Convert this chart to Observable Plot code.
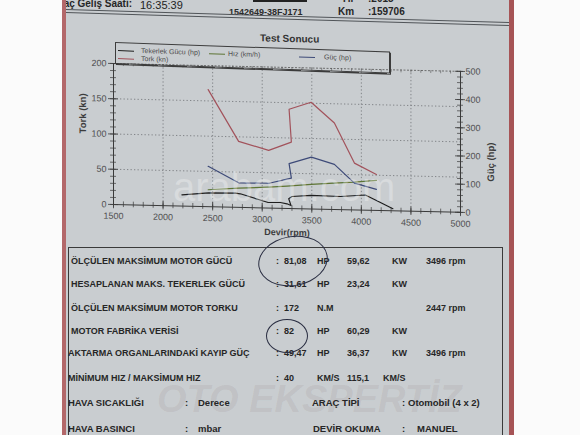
<!DOCTYPE html>
<html lang="tr"><head><meta charset="utf-8">
<script src="https://cdn.jsdelivr.net/npm/d3@7"></script>
<script src="https://cdn.jsdelivr.net/npm/@observablehq/plot@0.6"></script>
<style>
html,body{margin:0;padding:0;width:580px;height:435px;overflow:hidden;background:#fbfbfb;}
body{position:relative;font-family:"Liberation Sans",Arial,sans-serif;color:#262626;}
#stripL{position:absolute;left:62px;top:0;width:4px;height:435px;background:#b3686a;}
#stripR{position:absolute;left:509px;top:0;width:5px;height:435px;background:#a65456;}
#paper{position:absolute;left:66px;top:0;width:443px;height:435px;background:#c9cdd0;overflow:hidden;}
.t{position:absolute;white-space:nowrap;line-height:12px;}
#legend{position:absolute;left:49px;top:42px;width:273px;height:20px;border:1px solid #3c3c3c;box-shadow:1px 1px 0 #3c3c3c;transform:skewY(2deg);transform-origin:0 0;}
.lg{position:absolute;white-space:nowrap;font-size:7px;line-height:8px;color:#4a4a4a;}
.ll{position:absolute;height:0;border-top:1.2px solid;width:16px;}
#table{position:absolute;left:2px;top:247px;width:435px;height:200px;border:1.5px solid #3a3a3a;box-sizing:border-box;}
.pen{position:absolute;border:1.3px solid #2a2e42;border-radius:50%;}
</style></head><body>
<div id="stripL"></div><div id="stripR"></div>
<div id="paper"></div>
<script>
// ---------- chart data ----------
const rpmTork = [2455, 2762, 3065, 3294, 3271, 3493, 3728, 3930, 4152];
const tork    = [166, 93.6, 81.8, 94.3, 140.7, 151.4, 122.7, 66.5, 51.1];
const rpmGuc  = [2455, 2762, 3070, 3294, 3271, 3496, 3728, 3930, 4152];
const gucHp   = [143, 87, 88, 108, 159, 184, 160, 95, 75];
const rpmHiz  = [2455, 2762, 3065, 3250, 3493, 3721, 3930, 4152];
const hiz     = [24.0, 27.2, 29.6, 31.6, 34.8, 37.4, 39.5, 42.6];
const rpmTek  = [2190, 2459, 2729, 2779, 3060, 3183, 3250, 3290, 3267, 3300, 3493, 3789, 4040, 4152, 4318];
const tekerlek= [16.0, 19.7, 20.0, 19.3, 7.8, 8.2, 6.6, 4.3, 13.9, 17.1, 19.2, 18.7, 21.6, 14.2, 3];

// ---------- axes / ticks ----------
const xTicks = [1500, 2000, 2500, 3000, 3500, 4000, 4500, 5000];
const xGrid = [2000, 2500, 3000, 3500, 4000, 4500];
const xMinor = d3.range(1500, 5001, 100);
const yLeftTicks = [0, 50, 100, 150, 200];
const yGrid = [50, 100, 150];
const yLeftMinor = d3.range(0, 201, 10);
const yRightTicks = [0, 100, 200, 300, 400, 500];
const yRightMinor = d3.range(0, 501, 20);
const hpPerUnit = 500 / 200; // right axis (hp) vs left axis (kn)

// ---------- texts ----------
const legendNames = ["Tekerlek Gücu (hp)", "Hız (km/h)", "Güç (hp)", "Tork (kn)"];
const legendColors = ["#1e1e1e", "#5d7434", "#3d4a78", "#a2525b"];
const rowLabels = ["ÖLÇÜLEN MAKSİMUM MOTOR GÜCÜ", "HESAPLANAN MAKS. TEKERLEK GÜCÜ", "ÖLÇÜLEN MAKSİMUM MOTOR TORKU", "MOTOR FABRİKA VERİSİ", "AKTARMA ORGANLARINDAKİ KAYIP GÜÇ", "MİNİMUM HIZ / MAKSİMUM HIZ"];
const rowVal1 = ["81,08", "31,61", "172", "82", "49,47", "40"];
const rowUnit1 = ["HP", "HP", "N.M", "HP", "HP", "KM/S"];
const rowVal2 = ["59,62", "23,24", "", "60,29", "36,37", "115,1"];
const rowUnit2 = ["KW", "KW", "", "KW", "KW", "KM/S"];
const rowRpm = ["3496 rpm", "", "2447 rpm", "", "3496 rpm", ""];

const paper = document.getElementById("paper");
function put(txt, x, yc, size, bold, extra) {
  const s = document.createElement("div");
  s.className = "t";
  s.textContent = txt;
  s.style.left = (x - 66) + "px";
  s.style.top = (yc - 6) + "px";
  s.style.fontSize = size + "px";
  if (bold) s.style.fontWeight = "bold";
  if (extra) Object.assign(s.style, extra);
  paper.appendChild(s);
  return s;
}

// header
put("Araç Geliş Saati:", 40, 4, 10, true, {width: "92px", textAlign: "right", left: "-26px"});
put("16:35:39", 140, 5, 11, false, {color: "#1e1e1e"});
put("1542649-38FJ171", 229, 12, 9, true, {color: "#2a2a2a"});
put("Yıl", 341, -1, 10, true);
put(":2015", 368, -1, 10, true);
put("Km", 338, 12, 10, true);
put(":159706", 368, 12, 10, true);
const bar = document.createElement("div");
Object.assign(bar.style, {position: "absolute", left: "187px", top: "0", width: "54px", height: "2px", background: "#222"});
paper.appendChild(bar);
for (const off of [0, 2.5]) {
  const ln = document.createElement("div");
  Object.assign(ln.style, {position: "absolute", left: "-4px", top: (9 + off) + "px", width: "460px", height: "0", borderTop: "1px solid #505458", transform: "rotate(1.68deg)", transformOrigin: "0 0"});
  paper.appendChild(ln);
}

// title
put("Test Sonucu", 260, 39, 10, true, {color: "#333", transform: "skewY(1.3deg)"});

// chart
const torkData = rpmTork.map((r, i) => ({rpm: r, v: tork[i]}));
const gucData = rpmGuc.map((r, i) => ({rpm: r, hp: gucHp[i]}));
const hizData = rpmHiz.map((r, i) => ({rpm: r, v: hiz[i]}));
const tekData = rpmTek.map((r, i) => ({rpm: r, v: tekerlek[i]}));
const axisCol = "#3a3a3a";
const grid = {stroke: "#6f7276", strokeWidth: 0.8, strokeDasharray: "1.3,2.2"};

const chart = Plot.plot({
  width: 443, height: 185,
  marginLeft: 47, marginRight: 49, marginTop: 8, marginBottom: 36,
  x: {domain: [1500, 5000]},
  y: {domain: [0, 200]},
  style: {background: "transparent", fontFamily: "'Liberation Sans', Arial, sans-serif", fontSize: "9px", color: "#505050", overflow: "visible"},
  marks: [
    Plot.ruleX(xGrid, {x: d => d, y1: 0, y2: 200, ...grid}),
    Plot.ruleY(yGrid, {y: d => d, x1: 1500, x2: 5000, ...grid}),
    Plot.ruleY([200], {y: d => d, x1: 1500, x2: 5000, stroke: "#555", strokeWidth: 0.8, strokeDasharray: "2,1.5"}),
    Plot.ruleX(xMinor, {x: d => d, y1: 196, y2: 200, stroke: "#555", strokeWidth: 0.6}),
    Plot.ruleY([0], {y: d => d, x1: 1500, x2: 5000, stroke: axisCol, strokeWidth: 1}),
    Plot.ruleX([1500, 5000], {x: d => d, y1: 0, y2: 200, stroke: axisCol, strokeWidth: 1}),
    Plot.ruleX(xMinor, {x: d => d, y1: -4, y2: 4, stroke: axisCol, strokeWidth: 0.7}),
    Plot.ruleX(xTicks, {x: d => d, y1: -6, y2: 6, stroke: axisCol, strokeWidth: 0.8}),
    Plot.ruleY(yLeftMinor, {y: d => d, x1: 1470, x2: 1530, stroke: axisCol, strokeWidth: 0.7}),
    Plot.ruleY(yLeftTicks, {y: d => d, x1: 1450, x2: 1550, stroke: axisCol, strokeWidth: 0.8}),
    Plot.ruleY(yRightMinor, {y: d => d / hpPerUnit, x1: 4970, x2: 5030, stroke: axisCol, strokeWidth: 0.7}),
    Plot.ruleY(yRightTicks, {y: d => d / hpPerUnit, x1: 4950, x2: 5050, stroke: axisCol, strokeWidth: 0.8}),
    Plot.axisX(xTicks, {tickSize: 0, tickPadding: 8, label: null, tickFormat: d => String(d)}),
    Plot.axisY(yLeftTicks, {anchor: "left", tickSize: 0, tickPadding: 7, label: null, tickFormat: d => String(d)}),
    Plot.axisY(yRightTicks.map(d => d / hpPerUnit), {anchor: "right", tickSize: 0, tickPadding: 5, tickFormat: d => String(Math.round(d * hpPerUnit)), label: null}),
    Plot.line(tekData, {x: "rpm", y: "v", stroke: legendColors[0], strokeWidth: 1.2}),
    Plot.line(hizData, {x: "rpm", y: "v", stroke: legendColors[1], strokeWidth: 1.2}),
    Plot.line(gucData, {x: "rpm", y: d => d.hp / hpPerUnit, stroke: legendColors[2], strokeWidth: 1.2}),
    Plot.line(torkData, {x: "rpm", y: "v", stroke: legendColors[3], strokeWidth: 1.2}),
    Plot.text(["Tork (kn)"], {text: d => d, frameAnchor: "left", dx: -31, rotate: -90, fontWeight: "bold", fontSize: 9.5, fill: "#3c3c3c"}),
    Plot.text(["Güç (hp)"], {text: d => d, frameAnchor: "right", dx: 30, rotate: -90, fontWeight: "bold", fontSize: 9.5, fill: "#3c3c3c"}),
    Plot.text(["Devir(rpm)"], {text: d => d, frameAnchor: "bottom", dy: 27, fontWeight: "bold", fontSize: 9, fill: "#3c3c3c"})
  ]
});
Object.assign(chart.style, {position: "absolute", left: "0px", top: "55px", transform: "skewY(1.3deg)", transformOrigin: "47px 149px"});
paper.appendChild(chart);

// legend
const lg = document.createElement("div");
lg.id = "legend";
paper.appendChild(lg);
const legPos = [[2, 6.5, 25], [93, 6.5, 112], [183, 6.5, 208], [2, 14.5, 25]];
legendNames.forEach((name, i) => {
  const [lx, ly, tx] = legPos[i];
  const l = document.createElement("div");
  l.className = "ll";
  Object.assign(l.style, {left: lx + "px", top: ly + "px", borderTopColor: legendColors[i]});
  lg.appendChild(l);
  const t = document.createElement("div");
  t.className = "lg";
  t.textContent = name;
  Object.assign(t.style, {left: tx + "px", top: (ly - 4) + "px"});
  lg.appendChild(t);
});

// watermark over chart
put("arabam.com", 173, 187, 40, false, {color: "rgba(255,255,255,0.28)", lineHeight: "44px", top: "165px"});

// table
const tb = document.createElement("div");
tb.id = "table";
paper.appendChild(tb);
put("OTO EKSPERTİZ", 157, 399, 38, true, {fontStyle: "italic", color: "rgba(120,95,95,0.11)", lineHeight: "40px", top: "379px"});
const rowY = [261, 284, 307.5, 330.5, 353, 378];
rowLabels.forEach((lab, i) => {
  const y = rowY[i];
  const lx = i < 4 ? 71 : 68;
  put(lab, lx, y, 9, true);
  put(":", 276, y, 9, true);
  put(rowVal1[i], 284, y, 9, true);
  put(rowUnit1[i], 317, y, 9, true);
  if (rowVal2[i]) put(rowVal2[i], 347, y, 9, true);
  if (rowUnit2[i]) put(rowUnit2[i], i === 5 ? 383 : 392, y, 9, true);
  if (rowRpm[i]) put(rowRpm[i], 426, y, 9, true);
});
put("HAVA SICAKLIĞI", 68, 403, 9.5, true);
put(":", 185, 403, 9.5, true);
put("Derece", 198, 403, 9.5, true);
put("ARAÇ TİPİ", 312, 403, 9.5, true);
put(":", 402, 403, 9.5, true);
put("Otomobil (4 x 2)", 408, 403, 9.5, true);
put("HAVA BASINCI", 68, 429, 9.5, true);
put(":", 185, 429, 9.5, true);
put("mbar", 198, 429, 9.5, true);
put("DEVİR OKUMA", 313, 429, 9.5, true);
put(":", 402, 429, 9.5, true);
put("MANUEL", 417, 429, 9.5, true);

// pen marks (handwritten circles on the printout)
function pen(x, y, w, h, rot) {
  const e = document.createElement("div");
  e.className = "pen";
  Object.assign(e.style, {left: (x - 66) + "px", top: y + "px", width: w + "px", height: h + "px", transform: "rotate(" + rot + "deg)"});
  paper.appendChild(e);
}
pen(258, 236, 68, 48, -10);
pen(266, 319, 40, 32, 0);
</script>
</body></html>
